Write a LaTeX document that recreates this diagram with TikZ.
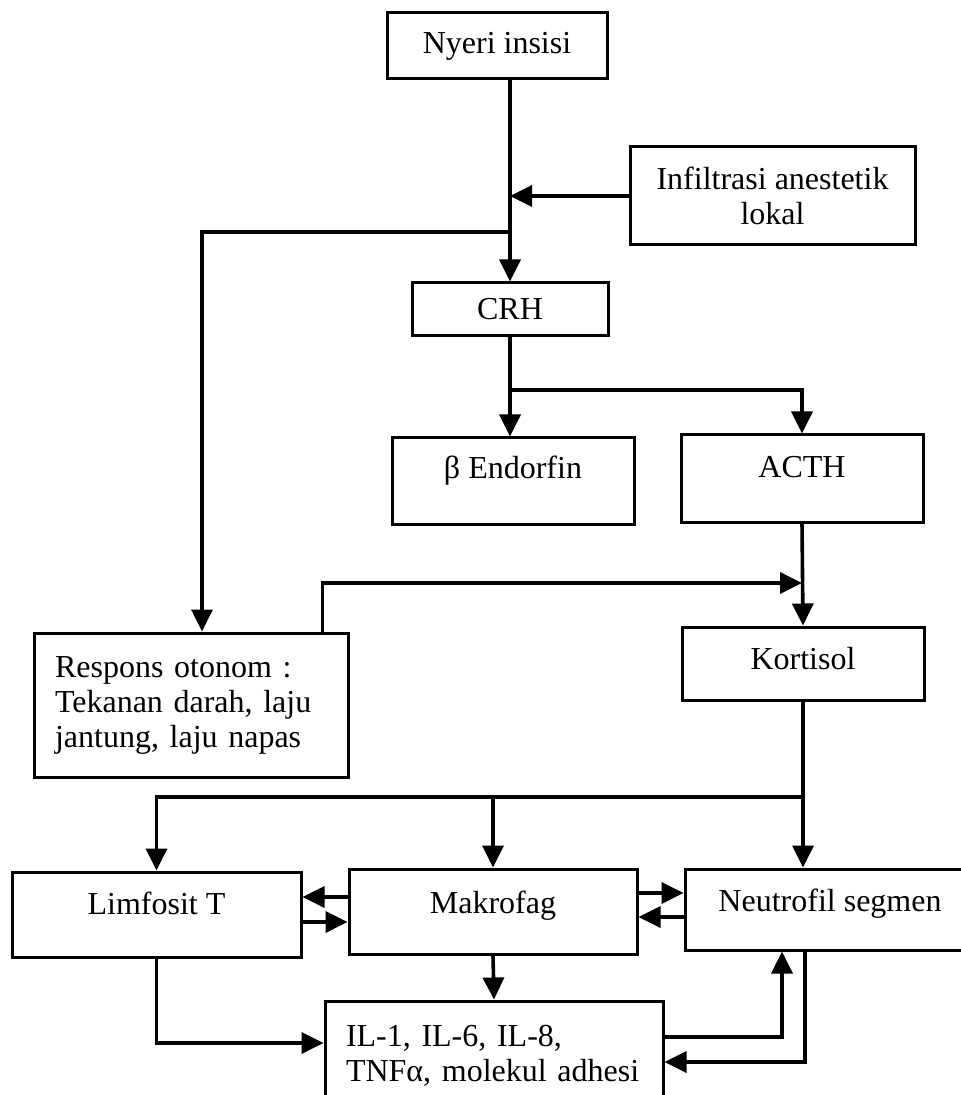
\documentclass[tikz,border=0pt]{standalone}
\usepackage{fontspec}
\setmainfont{Liberation Serif}
\usetikzlibrary{arrows.meta}

\begin{document}
\begin{tikzpicture}[x=0.5pt,y=-0.5pt,
    box/.style={draw,line width=1.5pt,rectangle,inner sep=0pt,font=\fontsize{16pt}{17.5pt}\selectfont},
    raise/.style={text height=11pt,text depth=#1},
    arr/.style={line width=1.8pt,-{Triangle[length=11pt,width=10.5pt]}}
]
    \useasboundingbox (0,0) rectangle (961,1095);

    \node[box,minimum width=110pt,minimum height=33pt] (nyeri) at (497,46) {Nyeri insisi};
    \node[box,minimum width=142.5pt,minimum height=49pt,align=center] (infil) at (772.5,196) {Infiltrasi anestetik\\lokal};
    \node[box,minimum width=98pt,minimum height=26.5pt] (crh) at (510,309.5) {CRH};
    \node[box,minimum width=121pt,minimum height=43pt,raise=13pt] (endorf) at (513,481) {β Endorfin};
    \node[box,minimum width=121pt,minimum height=43.5pt,raise=11.5pt] (acth) at (802,478.5) {ACTH};
    \node[box,minimum width=157pt,minimum height=72pt,text width=136pt,align=left] (respons) at (191,705)
        {Respons otonom :\\Tekanan darah, laju\\jantung, laju napas};
    \node[box,minimum width=121pt,minimum height=36.5pt,raise=5pt] (kortisol) at (803,663.5) {Kortisol};
    \node[box,minimum width=144.5pt,minimum height=42.5pt,raise=11.5pt] (limfosit) at (156.5,914.5) {Limfosit T};
    \node[box,minimum width=144pt,minimum height=42.5pt,raise=9.5pt] (makrofag) at (493,911.5) {Makrofag};
    \node[box,minimum width=145pt,minimum height=40.5pt,raise=9.5pt] (neutro) at (830,909.5) {Neutrofil segmen};
    \node[box,minimum width=169pt,minimum height=54.5pt,text width=148pt,align=left] (il) at (494,1055.5)
        {IL-1, IL-6, IL-8,\\TNFα, molekul adhesi};

    % jalur atas
    \draw[arr] (nyeri.south -| crh.north) -- (crh.north);
    \draw[arr] (infil.west) -- (infil.west -| crh.north);
    \coordinate (splitA) at (510,232);
    \draw[arr] (splitA) -| ([xshift=5.5pt]respons.north);
    \draw[arr] (crh.south) -- (crh.south |- endorf.north);
    \coordinate (splitB) at (510,390);
    \draw[arr] (splitB) -| (acth.north);
    \draw[arr] (acth.south) -- (kortisol.north);
    \coordinate (join) at (802,583);
    \draw[arr] ([xshift=-13.5pt]respons.north east) |- (join);

    % kortisol ke sel
    \draw[arr] (kortisol.south) -- (kortisol.south |- neutro.north);
    \coordinate (splitC) at (803,797);
    \draw[arr] (splitC) -| (limfosit.north);
    \draw[arr] (splitC -| makrofag.north) -- (makrofag.north);
    \draw[arr] (makrofag.west |- 0,897) -- (limfosit.east |- 0,897);
    \draw[arr] (limfosit.east |- 0,922) -- (makrofag.west |- 0,922);
    \draw[arr] (makrofag.east |- 0,893) -- (neutro.west |- 0,893);
    \draw[arr] (neutro.west |- 0,917) -- (makrofag.east |- 0,917);

    % sitokin
    \draw[arr] (makrofag.south) -- (il.north);
    \draw[arr] (limfosit.south) |- (il.west |- 0,1043);
    \draw[arr] (il.east |- 0,1037) -| (neutro.south -| 782,0);
    \draw[arr] (neutro.south -| 805,0) |- (il.east |- 0,1062);
\end{tikzpicture}
\end{document}
